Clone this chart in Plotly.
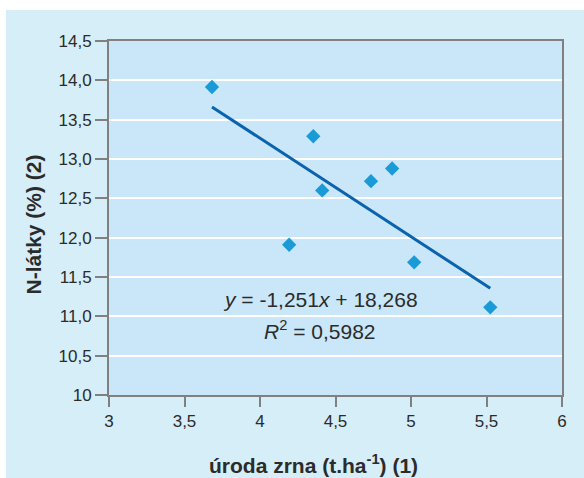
import plotly.graph_objects as go

# data
uroda = [3.682, 4.353, 4.412, 4.193, 4.735, 4.875, 5.021, 5.525]
n_latky = [13.915, 13.289, 12.600, 11.910, 12.718, 12.879, 11.686, 11.115]
slope = -1.251
intercept = 18.268
x_ticks = [3, 3.5, 4, 4.5, 5, 5.5, 6]
x_ticktext = ["3", "3,5", "4", "4,5", "5", "5,5", "6"]
y_ticks = [10, 10.5, 11, 11.5, 12, 12.5, 13, 13.5, 14, 14.5]
y_ticktext = ["10", "10,5", "11,0", "11,5", "12,0", "12,5", "13,0", "13,5", "14,0", "14,5"]

trend_x = [min(uroda), max(uroda)]
trend_y = [slope * v + intercept for v in trend_x]

FONT = "Arial, Liberation Sans, sans-serif"
TXT = "#2b2b2b"
AX = "#808080"

fig = go.Figure()
fig.add_trace(go.Scatter(x=trend_x, y=trend_y, mode="lines",
                         line=dict(color="#0b63ad", width=3), showlegend=False,
                         hoverinfo="skip"))
fig.add_trace(go.Scatter(x=uroda, y=n_latky, mode="markers",
                         marker=dict(symbol="diamond", size=11, color="#1a9bd7"),
                         showlegend=False))

fig.add_annotation(x=4.40, y=11.22, xref="x", yref="y",
                   text="<i>y</i> = -1,251<i>x</i> + 18,268", showarrow=False,
                   font=dict(family=FONT, size=21, color=TXT))
fig.add_annotation(x=4.40, y=10.83, xref="x", yref="y",
                   text="<i>R</i><sup>2</sup> = 0,5982", showarrow=False,
                   font=dict(family=FONT, size=21, color=TXT))

# axis titles
fig.add_annotation(x=(313.5 - 109) / 453, y=(395 - 464) / 354, xref="paper", yref="paper",
                   text="<b>úroda zrna (t.ha<sup>-1</sup>) (1)</b>", showarrow=False,
                   xanchor="center", yanchor="middle",
                   font=dict(family=FONT, size=21, color=TXT))
fig.add_annotation(x=(33 - 109) / 453, y=(395 - 224.5) / 354, xref="paper", yref="paper",
                   text="<b>N-látky (%) (2)</b>", showarrow=False, textangle=-90,
                   xanchor="center", yanchor="middle",
                   font=dict(family=FONT, size=21, color=TXT))

# white strips (outer frame offset)
fig.add_shape(type="rect", xref="paper", yref="paper",
              x0=-0.25, x1=1.1, y0=(395 - 10) / 354, y1=1.13,
              fillcolor="white", line=dict(width=0), layer="below")
fig.add_shape(type="rect", xref="paper", yref="paper",
              x0=-0.25, x1=(6 - 109) / 453, y0=-0.25, y1=1.13,
              fillcolor="white", line=dict(width=0), layer="below")

fig.update_layout(
    width=584, height=478,
    margin=dict(l=109, r=22, t=41, b=83),
    paper_bgcolor="#d6eef8",
    plot_bgcolor="#c9e7f8",
    font=dict(family=FONT, size=17, color=TXT),
    xaxis=dict(range=[3, 6], tickvals=x_ticks, ticktext=x_ticktext,
               showgrid=False, zeroline=False,
               showline=True, linecolor=AX, linewidth=2, mirror=True,
               ticks="outside", ticklen=10, tickwidth=2, tickcolor=AX,
               tickfont=dict(size=17, color=TXT)),
    yaxis=dict(range=[10, 14.5], tickvals=y_ticks, ticktext=y_ticktext,
               showgrid=True, gridcolor="white", gridwidth=2, zeroline=False,
               showline=True, linecolor=AX, linewidth=2, mirror=True,
               ticks="outside", ticklen=12, tickwidth=2, tickcolor=AX,
               tickfont=dict(size=17, color=TXT)),
)

fig.write_html("out.html")
